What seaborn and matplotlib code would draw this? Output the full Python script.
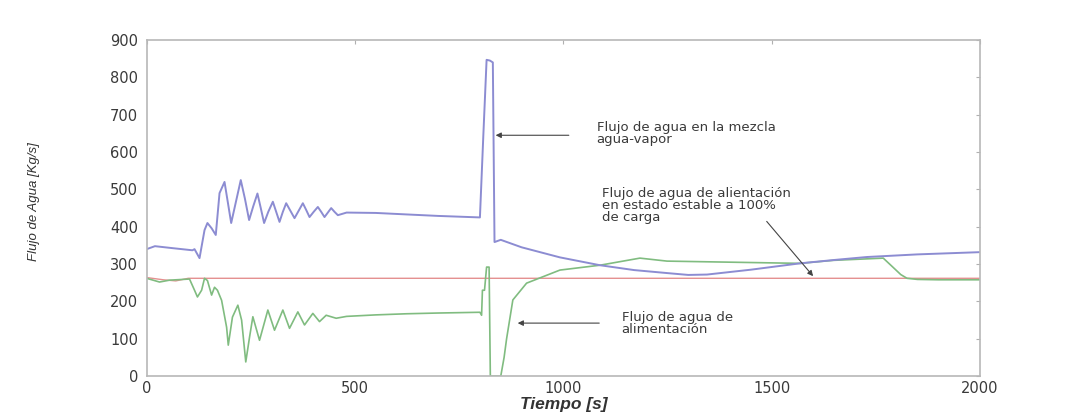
import numpy as np
import pandas as pd
import seaborn as sns
import matplotlib.pyplot as plt

# --- data ---
# flujo de agua en la mezcla agua-vapor (blue)
t_mix = [0, 20, 60, 110, 115, 127, 139, 146, 156, 166, 175, 187, 195, 203, 215, 226, 236, 246,
         256, 266, 274, 282, 292, 303, 311, 319, 327, 335, 345, 355, 365, 375, 383, 391, 401,
         411, 419, 427, 435, 443, 451, 459, 480, 550, 624, 700, 800, 808, 816, 824, 831, 835,
         850, 900, 992, 1088, 1170, 1249, 1300, 1345, 1450, 1568, 1650, 1729, 1850, 2000]
q_mix = [340, 348, 343, 337, 340, 316, 391, 410, 396, 378, 490, 520, 465, 410, 470, 525, 475, 418,
         455, 489, 450, 410, 440, 467, 440, 413, 440, 463, 443, 423, 443, 463, 445, 426, 440,
         453, 440, 426, 438, 450, 440, 431, 438, 437, 433, 429, 425, 640, 847, 845, 840, 359,
         365, 345, 318, 297, 284, 276, 271, 272, 285, 302, 311, 319, 326, 332]

# flujo de agua de alimentacion (green)
t_feed = [0, 31, 55, 103, 115, 122, 132, 139, 146, 156, 163, 170, 180, 192, 196, 206, 219, 228,
          238, 247, 255, 271, 291, 307, 327, 343, 363, 379, 399, 415, 431, 455, 480, 550, 624,
          700, 800, 804, 806, 811, 816, 822, 825, 850, 858, 864, 879, 912, 992, 1088, 1184,
          1249, 1408, 1568, 1648, 1768, 1791, 1810, 1825, 1850, 1900, 2000]
q_feed = [262, 252, 257, 260, 230, 212, 230, 262, 256, 217, 238, 230, 203, 131, 83, 158, 190, 150,
          38, 104, 159, 96, 177, 123, 177, 128, 172, 137, 168, 146, 163, 155, 160, 164, 167,
          169, 171, 163, 230, 230, 292, 292, 0, 0, 50, 100, 204, 249, 284, 297, 316,
          308, 305, 302, 310, 316, 292, 272, 262, 259, 258, 258]

# flujo en estado estable a 100% de carga (red)
t_ref = [0, 40, 70, 100, 2000]
q_ref = [264, 258, 255, 262, 262]

y_ticks = [0, 100, 200, 300, 400, 500, 600, 700, 800, 900]
x_ticks = [0, 500, 1000, 1500, 2000]

label_mix = "Flujo de agua en la mezcla\nagua-vapor"
label_ss = "Flujo de agua de alientación\nen estado estable a 100%\nde carga"
label_feed = "Flujo de agua de\nalimentación"

sns.set_style("white")
plt.rcParams['font.family'] = ['DejaVu Sans']

fig = plt.figure(figsize=(10.78, 4.17), dpi=100)
ax = fig.add_axes([0.136, 0.098, 0.773, 0.806])

sns.lineplot(x=t_ref, y=q_ref, ax=ax, color='#e49090', linewidth=1.0, sort=False)
sns.lineplot(x=t_feed, y=q_feed, ax=ax, color='#80bc80', linewidth=1.2, sort=False)
sns.lineplot(x=t_mix, y=q_mix, ax=ax, color='#8c8cd2', linewidth=1.4, sort=False)

ax.set_xlim(0, 2000)
ax.set_ylim(0, 900)
ax.set_xticks(x_ticks)
ax.set_yticks(y_ticks)
ax.tick_params(direction='in', length=3, color='#b0b0b0', labelsize=10.5,
               top=True, right=True, labelcolor='#3a3a3a')
ax.tick_params(axis='y', pad=6)
for s in ax.spines.values():
    s.set_color('#b8b8b8')
    s.set_linewidth(1.2)

ax.set_xlabel("Tiempo [s]", fontsize=12.5, fontstyle='italic', fontweight='bold',
              color='#333333', family=['Liberation Sans', 'DejaVu Sans'], labelpad=1)
ax.set_ylabel("Flujo de Agua [Kg/s]", fontsize=9.5, fontstyle='italic', color='#333333',
              family=['Liberation Sans', 'DejaVu Sans'])
ax.yaxis.set_label_coords(-0.128, 0.52)

arrow = dict(arrowstyle='-|>', color='#444444', lw=0.8, mutation_scale=8)
txt = dict(fontsize=9.5, color='#3a3a3a', va='top', linespacing=0.9)

ax.annotate("", xy=(831, 645), xytext=(1020, 645), arrowprops=arrow)
ax.text(1080, 682, label_mix, **txt)

ax.annotate("", xy=(1604, 262), xytext=(1484, 420), arrowprops=arrow)
ax.text(1093, 506, label_ss, **txt)

ax.annotate("", xy=(884, 142), xytext=(1093, 142), arrowprops=arrow)
ax.text(1140, 174, label_feed, **txt)

fig.savefig("out.png", dpi=100)
